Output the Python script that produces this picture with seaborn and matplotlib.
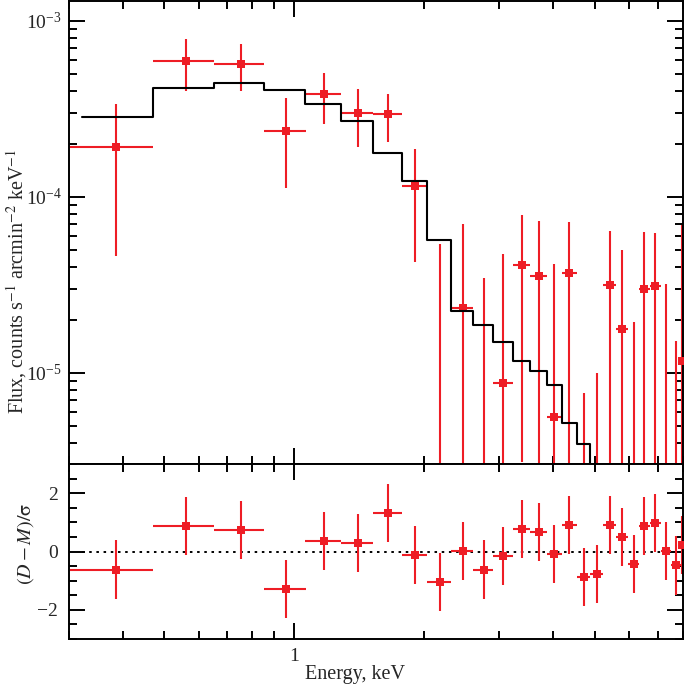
import numpy as np
import pandas as pd
import matplotlib
matplotlib.use("Agg")
import matplotlib.pyplot as plt
from matplotlib import ticker
import seaborn as sns

# spectrum bins (keV), centre and half width
energy = [0.386, 0.560, 0.751, 0.957, 1.174, 1.405, 1.653, 1.910, 2.178, 2.463,
          2.756, 3.062, 3.377, 3.697, 4.022, 4.359, 4.707, 5.050, 5.405, 5.780,
          6.145, 6.515, 6.905, 7.310, 7.720, 7.970]
energy_hw = [0.085, 0.091, 0.100, 0.106, 0.112, 0.119, 0.129, 0.129, 0.140, 0.145,
             0.148, 0.159, 0.157, 0.164, 0.161, 0.176, 0.173, 0.170, 0.185, 0.190,
             0.175, 0.195, 0.195, 0.210, 0.200, 0.050]

# measured flux and 1-sigma error, counts s^-1 arcmin^-2 keV^-1
flux = [1.92e-4, 5.90e-4, 5.70e-4, 2.37e-4, 3.82e-4, 2.99e-4, 2.94e-4, 1.15e-4,
        0.0, 2.34e-5, -7.1e-6, 8.70e-6, 4.09e-5, 3.56e-5, 5.62e-6, 3.68e-5,
        -2.7e-5, -2.2e-5, 3.14e-5, 1.77e-5, -1.25e-5, 3.00e-5, 3.12e-5, 1.0e-6,
        -1.3e-5, 1.16e-5]
flux_err = [1.46e-4, 1.93e-4, 1.70e-4, 1.25e-4, 1.22e-4, 1.08e-4, 0.885e-4, 0.725e-4,
            5.38e-5, 4.65e-5, 4.16e-5, 3.84e-5, 3.78e-5, 3.74e-5, 3.57e-5, 3.47e-5,
            3.47e-5, 3.20e-5, 3.24e-5, 3.21e-5, 3.20e-5, 3.28e-5, 3.07e-5, 3.10e-5,
            2.81e-5, 5.75e-5]

# folded model, step histogram
model_edges = [0.321, 0.469, 0.651, 0.851, 1.062, 1.286, 1.524, 1.781, 2.038, 2.318,
               2.608, 2.903, 3.220, 3.533, 3.861, 4.183, 4.534, 4.880, 5.22, 5.59,
               5.97, 6.32, 6.71, 7.10, 7.52, 7.92, 8.02]
model_flux = [2.84e-4, 4.16e-4, 4.44e-4, 4.03e-4, 3.37e-4, 2.68e-4, 1.77e-4, 1.23e-4,
              5.68e-5, 2.25e-5, 1.87e-5, 1.49e-5, 1.16e-5, 1.03e-5, 8.48e-6, 5.20e-6,
              3.94e-6, 2.6e-6, 2.2e-6, 1.6e-6, 1.3e-6, 1.0e-6, 0.8e-6, 0.6e-6,
              0.5e-6, 0.4e-6]

# residuals (D - M)/sigma
resid = [-0.62, 0.87, 0.74, -1.30, 0.37, 0.28, 1.31, -0.12, -1.06, 0.01,
         -0.62, -0.16, 0.77, 0.67, -0.08, 0.91, -0.89, -0.78, 0.90, 0.51,
         -0.43, 0.89, 0.99, 0.02, -0.48, 0.21]

sns.set_style("ticks")
plt.rcParams["font.family"] = ["Liberation Serif", "DejaVu Serif"]
plt.rcParams["mathtext.fontset"] = "stix"
plt.rcParams["axes.linewidth"] = 1.4
plt.rcParams["axes.edgecolor"] = "black"

RED = "#ee1d25"
W = 685.0

data = pd.DataFrame({"energy": energy, "hw": energy_hw, "flux": flux,
                     "err": flux_err, "resid": resid})
steps = pd.DataFrame({"e": model_edges, "m": model_flux + [model_flux[-1]]})

fig = plt.figure(figsize=(6.85, 6.85), dpi=100)
ax = fig.add_axes([69 / W, 1 - 464.3 / W, (683.3 - 69) / W, (464.3 - 0.7) / W])
axr = fig.add_axes([69 / W, 1 - 638.7 / W, (683.3 - 69) / W, (638.7 - 464.3) / W],
                   sharex=ax)

ax.set_xscale("log")
ax.set_yscale("log")

# top panel: spectrum + model
ax.errorbar(data["energy"], data["flux"], xerr=data["hw"], yerr=data["err"],
            fmt="none", ecolor=RED, elinewidth=1.5, capsize=0, zorder=2)
pos = data[data["flux"] > 0]
sns.scatterplot(data=pos, x="energy", y="flux", marker="s", s=26, color=RED,
                edgecolor=RED, linewidth=0, ax=ax, zorder=3, legend=False)
sns.lineplot(data=steps, x="e", y="m", drawstyle="steps-post", estimator=None,
             color="black", linewidth=1.5, ax=ax, zorder=4)

ax.set_xlim(0.3, 8.02)
ax.set_ylim(3.02e-6, 1.3e-3)
ax.set_xlabel("")
ax.set_ylabel("")

# bottom panel: residuals
axr.hlines(0, model_edges[0], model_edges[-1], colors="black",
           linestyles=(0, (1.3, 2.4)), linewidth=1.4, zorder=1)
axr.errorbar(data["energy"], data["resid"], xerr=data["hw"], yerr=1.0,
             fmt="none", ecolor=RED, elinewidth=1.5, capsize=0, zorder=2)
sns.scatterplot(data=data, x="energy", y="resid", marker="s", s=26, color=RED,
                edgecolor=RED, linewidth=0, ax=axr, zorder=3, legend=False)
axr.set_ylim(-3, 3)
axr.set_xlim(0.3, 8.02)
axr.set_xlabel("")
axr.set_ylabel("")

axr.yaxis.set_major_locator(ticker.MultipleLocator(2))
axr.yaxis.set_minor_locator(ticker.MultipleLocator(0.5))
axr.xaxis.set_major_formatter(ticker.FuncFormatter(lambda v, p: f"{v:g}"))
axr.xaxis.set_minor_formatter(ticker.NullFormatter())

for a in (ax, axr):
    a.tick_params(which="both", direction="in", top=True, right=True,
                  width=1.4, color="black", labelsize=14)
    a.tick_params(which="major", length=11.5)
    a.tick_params(which="minor", length=5.8)
    for s in a.spines.values():
        s.set_linewidth(1.4)
        s.set_color("black")

ax.tick_params(axis="x", which="both", labelbottom=False)
ax.tick_params(axis="y", pad=5)
axr.tick_params(axis="y", pad=8)
axr.tick_params(axis="x", pad=7)

fig.text(16.5 / W, 1 - 281 / W,
         r"Flux, counts s$^{-1}$ arcmin$^{-2}$ keV$^{-1}$",
         rotation=90, ha="center", va="center", fontsize=14.5)
fig.text(25.5 / W, 1 - 544 / W, r"$(D-M)/\mathrm{\sigma}$",
         rotation=90, ha="center", va="center", fontsize=14.5)
fig.text(355 / W, 1 - 679 / W, "Energy, keV", ha="center", va="baseline",
         fontsize=14.5)

fig.savefig("out.png", dpi=100)
